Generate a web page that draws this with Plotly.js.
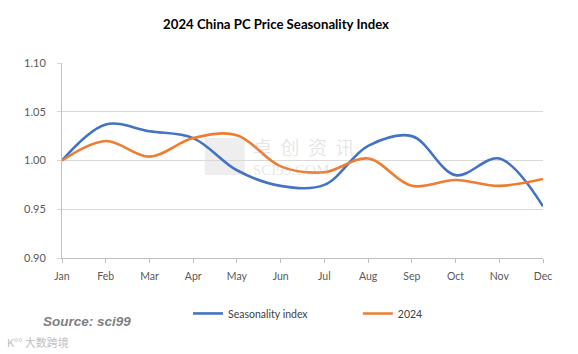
<!DOCTYPE html>
<html><head><meta charset="utf-8">
<script src="https://cdn.plot.ly/plotly-3.0.1.min.js"></script>
<style>html,body{margin:0;padding:0;background:#fff}#chart{width:578px;height:354px}</style>
</head><body><div id="chart"></div>
<script>
const months = ["Jan","Feb","Mar","Apr","May","Jun","Jul","Aug","Sep","Oct","Nov","Dec"];
const seasonalityIndex = [1.000,1.037,1.030,1.023,0.990,0.974,0.975,1.015,1.025,0.985,1.002,0.953];
const series2024 = [1.000,1.020,1.004,1.023,1.026,0.994,0.988,1.002,0.974,0.980,0.974,0.981];
const yTicks = [0.90,0.95,1.00,1.05,1.10];

const traces = [
  {x: months, y: seasonalityIndex, name: "Seasonality index", type: "scatter", mode: "lines", legend: "legend",
   line: {color: "#4472C4", width: 2.6, shape: "spline", smoothing: 1}},
  {x: months, y: series2024, name: "2024", type: "scatter", mode: "lines", legend: "legend2",
   line: {color: "#ED7D31", width: 2.6, shape: "spline", smoothing: 1}}
];
const wm = "rgba(175,175,175,0.32)";
const layout = {
  width: 578, height: 354,
  margin: {l: 62, r: 35, t: 63, b: 96},
  paper_bgcolor: "#fff", plot_bgcolor: "#fff",
  font: {family: "Lato, Noto Sans, Arial, sans-serif", color: "#595959", size: 10.5},
  title: {text: "<b>2024 China PC Price Seasonality Index</b>", xref: "paper", x: 0.445, xanchor: "center", y: 0.93, yanchor: "middle",
    font: {family: "Lato, Noto Sans, Arial, sans-serif", size: 13.2, color: "#000"}},
  xaxis: {type: "category", range: [0, 11], showgrid: false, showline: true, linecolor: "#bfbfbf", linewidth: 1,
    ticks: "outside", ticklen: 4, tickcolor: "#bfbfbf", ticklabelstandoff: 4,
    tickfont: {size: 10.5, color: "#595959"}, zeroline: false, fixedrange: true},
  yaxis: {range: [0.90, 1.10], tickvals: yTicks, tickformat: ".2f", showgrid: true, gridcolor: "#d9d9d9", gridwidth: 1,
    showline: true, linecolor: "#bfbfbf", ticks: "outside", ticklen: 4, tickcolor: "#d9d9d9", ticklabelstandoff: 9,
    tickfont: {size: 11, color: "#595959"}, zeroline: false, fixedrange: true},
  legend: {orientation: "h", x: 0.262, xanchor: "left", y: -0.21, yanchor: "top", font: {size: 10.5, color: "#404040"},
    itemwidth: 30, bgcolor: "rgba(0,0,0,0)"},
  legend2: {orientation: "h", x: 0.615, xanchor: "left", y: -0.21, yanchor: "top", font: {size: 10.5, color: "#404040"},
    itemwidth: 30, bgcolor: "rgba(0,0,0,0)"},
  showlegend: true,
  shapes: [
    {type: "rect", xref: "paper", yref: "paper", x0: 0.297, x1: 0.380, y0: 0.426, y1: 0.615,
     fillcolor: "rgba(200,200,200,0.3)", line: {width: 0}, layer: "below"}
  ],
  annotations: [
    {text: "<b><i>Source: sci99</i></b>", xref: "paper", yref: "paper", x: -0.043, y: -0.328, xanchor: "left", yanchor: "middle",
     showarrow: false, font: {size: 13.5, color: "#7f7f7f", family: "Liberation Sans, Arial, sans-serif"}},
    {text: "K°° 大数跨境", xref: "paper", yref: "paper", x: -0.118, y: -0.432, xanchor: "left", yanchor: "middle",
     showarrow: false, font: {size: 11, color: "#c0c0c0", family: "Noto Sans CJK SC, sans-serif"}},
    {text: "卓&nbsp;&nbsp;创&nbsp;&nbsp;资&nbsp;&nbsp;讯", xref: "paper", yref: "paper", x: 0.392, y: 0.572, xanchor: "left", yanchor: "middle",
     showarrow: false, font: {size: 19, color: wm, family: "Noto Sans CJK SC, sans-serif"}},
    {text: "SCI99.COM", xref: "paper", yref: "paper", x: 0.392, y: 0.45, xanchor: "left", yanchor: "middle",
     showarrow: false, font: {size: 15, color: wm, family: "Liberation Serif, serif"}}
  ]
};
Plotly.newPlot("chart", traces, layout, {displayModeBar: false, staticPlot: true});
</script></body></html>
